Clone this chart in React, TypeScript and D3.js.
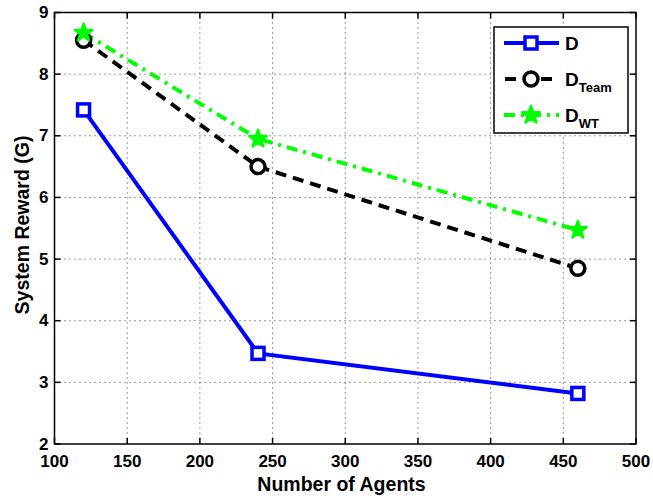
import React from "react";
import * as d3 from "d3";

const agents = [120, 240, 460];
const rewardD = [7.42, 3.47, 2.82];
const rewardTeam = [8.55, 6.5, 4.85];
const rewardWT = [8.67, 6.95, 5.47];
const xTicks = [100, 150, 200, 250, 300, 350, 400, 450, 500];
const yTicks = [2, 3, 4, 5, 6, 7, 8, 9];

const W = 653;
const H = 498;
const left = 54.5;
const right = 636;
const top = 12.5;
const bottom = 444;

const FONT = "'Liberation Sans', Arial, Helvetica, sans-serif";

export default function App() {
  const x = d3.scaleLinear().domain([100, 500]).range([left, right]);
  const y = d3.scaleLinear().domain([2, 9]).range([bottom, top]);
  const line = d3
    .line<[number, number]>()
    .x((d) => x(d[0]))
    .y((d) => y(d[1]));
  const pts = (vals: number[]) => agents.map((a, i) => [a, vals[i]] as [number, number]);

  const star = d3.symbol().type(d3.symbolStar).size(95)() as string;

  const square = (cx: number, cy: number, key: string) => (
    <rect key={key} x={cx - 6} y={cy - 6} width={12} height={12} fill="white" stroke="#0000ff" strokeWidth={3.5} />
  );
  const circle = (cx: number, cy: number, key: string) => (
    <circle key={key} cx={cx} cy={cy} r={7} fill="white" stroke="#000" strokeWidth={3.5} />
  );
  const starMark = (cx: number, cy: number, key: string) => (
    <path key={key} d={star} transform={`translate(${cx},${cy})`} fill="#00ff00" stroke="#00ff00" strokeWidth={2.5} strokeLinejoin="round" />
  );

  const legX0 = 504;
  const legX1 = 559;
  const legMid = 531;
  const legRows = [43, 79, 115];

  return (
    <svg width={W} height={H} style={{ position: "absolute", left: 0, top: 0, background: "white" }} fontFamily={FONT}>
      <rect x={0} y={0} width={W} height={H} fill="white" />
      {/* grid */}
      {xTicks.slice(1, -1).map((t) => (
        <line key={"gx" + t} x1={x(t)} x2={x(t)} y1={top} y2={bottom} stroke="#333" strokeWidth={1} strokeDasharray="1,4" />
      ))}
      {yTicks.slice(1, -1).map((t) => (
        <line key={"gy" + t} x1={left} x2={right} y1={y(t)} y2={y(t)} stroke="#333" strokeWidth={1} strokeDasharray="1,4" />
      ))}
      {/* tick marks on all sides */}
      {xTicks.map((t) => (
        <g key={"tx" + t}>
          <line x1={x(t)} x2={x(t)} y1={bottom} y2={bottom - 6} stroke="#000" strokeWidth={1.5} />
          <line x1={x(t)} x2={x(t)} y1={top} y2={top + 6} stroke="#000" strokeWidth={1.5} />
        </g>
      ))}
      {yTicks.map((t) => (
        <g key={"ty" + t}>
          <line x1={left} x2={left + 6} y1={y(t)} y2={y(t)} stroke="#000" strokeWidth={1.5} />
          <line x1={right} x2={right - 6} y1={y(t)} y2={y(t)} stroke="#000" strokeWidth={1.5} />
        </g>
      ))}
      <rect x={left} y={top} width={right - left} height={bottom - top} fill="none" stroke="#000" strokeWidth={1.5} />
      {/* tick labels */}
      {xTicks.map((t) => (
        <text key={"lx" + t} x={x(t)} y={467} textAnchor="middle" fontSize={17} fontWeight="bold">
          {t}
        </text>
      ))}
      {yTicks.map((t) => (
        <text key={"ly" + t} x={left - 6} y={y(t) + 5.5} textAnchor="end" fontSize={17} fontWeight="bold">
          {t}
        </text>
      ))}
      <text x={341.5} y={490.5} textAnchor="middle" fontSize={19.5} fontWeight="bold">
        Number of Agents
      </text>
      <text transform={`translate(28.5,225) rotate(-90)`} textAnchor="middle" fontSize={19.5} fontWeight="bold">
        System Reward (G)
      </text>
      {/* series */}
      <path d={line(pts(rewardD)) as string} fill="none" stroke="#0000ff" strokeWidth={4} />
      <path d={line(pts(rewardTeam)) as string} fill="none" stroke="#000" strokeWidth={4} strokeDasharray="11,7" />
      <path d={line(pts(rewardWT)) as string} fill="none" stroke="#00ff00" strokeWidth={4} strokeDasharray="11,6,3,6" />
      {pts(rewardD).map((p, i) => square(x(p[0]), y(p[1]), "sq" + i))}
      {pts(rewardTeam).map((p, i) => circle(x(p[0]), y(p[1]), "ci" + i))}
      {pts(rewardWT).map((p, i) => starMark(x(p[0]), y(p[1]), "st" + i))}
      {/* legend */}
      <rect x={494} y={27} width={134} height={106} fill="white" stroke="#000" strokeWidth={1.5} />
      <line x1={legX0} x2={legX1} y1={legRows[0]} y2={legRows[0]} stroke="#0000ff" strokeWidth={4} />
      {square(legMid, legRows[0], "lsq")}
      <line x1={legX0} x2={legX1} y1={legRows[1]} y2={legRows[1]} stroke="#000" strokeWidth={4} strokeDasharray="11,7" strokeDashoffset={-1} />
      {circle(legMid, legRows[1], "lci")}
      <line x1={legX0} x2={legX1} y1={legRows[2]} y2={legRows[2]} stroke="#00ff00" strokeWidth={4} strokeDasharray="11,6,3,6" />
      {starMark(legMid, legRows[2], "lst")}
      <text x={565} y={legRows[0] + 7} fontSize={19} fontWeight="bold">D</text>
      <text x={565} y={legRows[1] + 7} fontSize={19} fontWeight="bold">
        D<tspan fontSize={13} dy={6}>Team</tspan>
      </text>
      <text x={565} y={legRows[2] + 7} fontSize={19} fontWeight="bold">
        D<tspan fontSize={13} dy={6}>WT</tspan>
      </text>
    </svg>
  );
}
